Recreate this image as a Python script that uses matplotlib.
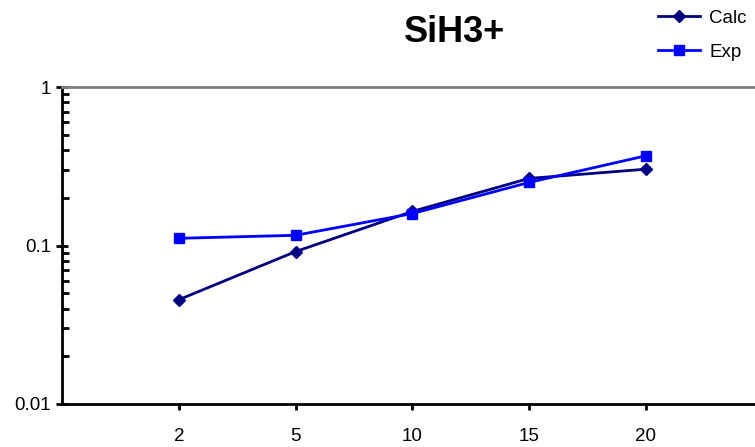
import numpy as np
from matplotlib import pyplot as plt
from matplotlib.ticker import LogLocator, NullFormatter, FixedLocator

plt.rcParams['font.family'] = ['Liberation Sans', 'DejaVu Sans']

# Energy labels on the category axis and the two series
categories = ['2', '5', '10', '15', '20']
calc = [0.0455, 0.0915, 0.164, 0.265, 0.303]
exp = [0.111, 0.116, 0.159, 0.250, 0.368]

fig = plt.figure(figsize=(7.55, 4.47), dpi=100)
ax = fig.add_axes([62 / 755, 1 - 404 / 447, 1 - 62 / 755 + 0.01, (404 - 87) / 447])

x = np.arange(1, len(categories) + 1)
l1, = ax.plot(x, calc, color='#000080', lw=2, marker='D', ms=6.5, label='Calc', clip_on=False)
l2, = ax.plot(x, exp, color='#0000FF', lw=2, marker='s', ms=7, label='Exp', clip_on=False)

ax.set_yscale('log')
ax.set_ylim(0.01, 1)
ax.set_xlim(0, 6.0)
ax.yaxis.set_major_locator(FixedLocator([0.01, 0.1, 1]))
ax.set_yticklabels(['0.01', '0.1', '1'])
ax.yaxis.set_minor_locator(LogLocator(base=10, subs=np.arange(2, 10)))
ax.yaxis.set_minor_formatter(NullFormatter())
ax.set_xticks(x)
ax.set_xticklabels(categories)

ax.tick_params(axis='y', which='major', direction='inout', length=8, width=2, labelsize=13.5, pad=4)
ax.tick_params(axis='y', which='minor', direction='in', length=5, width=2)
ax.tick_params(axis='x', which='major', direction='out', length=4, width=2, labelsize=13.5, pad=13)

for side in ['left', 'bottom']:
    ax.spines[side].set_linewidth(2)
ax.spines['top'].set_color('#808080')
ax.spines['top'].set_linewidth(2)
ax.spines['right'].set_visible(False)

fig.text(455 / 755, 1 - 33 / 447, 'SiH3+', fontsize=26, fontweight='bold',
         ha='center', va='center')

fig.legend(handles=[l1, l2], loc='upper left', bbox_to_anchor=(650 / 755, 1 - 2 / 447),
           frameon=False, fontsize=13.5, handlelength=2.25, handletextpad=0.5,
           labelspacing=0.9, borderaxespad=0)

fig.savefig('out.png', dpi=100)
